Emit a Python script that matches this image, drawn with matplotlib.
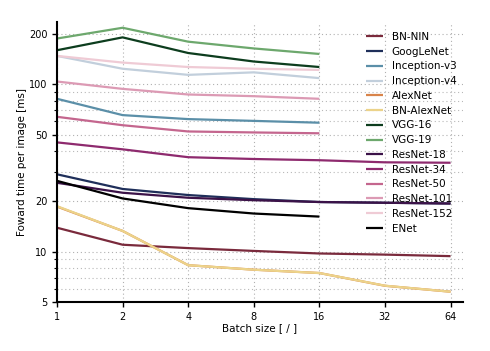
import matplotlib
matplotlib.use("Agg")
import matplotlib.pyplot as plt
from matplotlib.ticker import FixedLocator, LogLocator, NullFormatter, FixedFormatter

batch_full = [1, 2, 4, 8, 16, 32, 64]

names = ["BN-NIN", "GoogLeNet", "Inception-v3", "Inception-v4", "AlexNet", "BN-AlexNet",
         "VGG-16", "VGG-19", "ResNet-18", "ResNet-34", "ResNet-50", "ResNet-101",
         "ResNet-152", "ENet"]

bn_nin = [13.9, 11.0, 10.5, 10.1, 9.75, 9.6, 9.4]
googlenet = [29.0, 23.7, 21.8, 20.6, 19.8, 19.6, 19.4]
inception_v3 = [82, 65.5, 62, 60.5, 59]
inception_v4 = [148, 124, 114, 118, 109]
alexnet = [18.6, 13.3, 8.3, 7.8, 7.45, 6.25, 5.76]
bn_alexnet = [18.7, 13.3, 8.3, 7.8, 7.45, 6.26, 5.76]
vgg16 = [160, 191, 154, 137, 127]
vgg19 = [188, 218, 180, 164, 152]
resnet18 = [25.8, 22.5, 21.0, 20.3, 19.8, 19.6, 19.4]
resnet34 = [45, 40.9, 36.7, 35.8, 35.2, 34.2, 34.0]
resnet50 = [64, 57, 52.3, 51.6, 51]
resnet101 = [104, 94, 87, 85, 82]
resnet152 = [148, 135, 127, 124, 122]
enet = [26.5, 20.8, 18.2, 16.9, 16.2]

series = [bn_nin, googlenet, inception_v3, inception_v4, alexnet, bn_alexnet,
          vgg16, vgg19, resnet18, resnet34, resnet50, resnet101, resnet152, enet]

colors = ["#7a2a3c", "#1f2f5a", "#5b8fa8", "#c2cfdc", "#d9844a", "#ecd38a",
          "#0d3d1e", "#6da86d", "#3b1248", "#8e2a6e", "#c4668e", "#dc9ab4",
          "#efcbd5", "#000000"]

xtick_vals = [1, 2, 4, 8, 16, 32, 64]
xtick_labels = ["1", "2", "4", "8", "16", "32", "64"]
ytick_vals = [5, 10, 20, 50, 100, 200]
ytick_labels = ["5", "10", "20", "50", "100", "200"]

fig = plt.figure(figsize=(4.9, 3.51), dpi=100)
ax = fig.add_axes([57/490, (351-302)/351, (463-57)/490, (302-22)/351])

for name, vals, c in zip(names, series, colors):
    xs = batch_full[:len(vals)]
    ax.plot(xs, vals, color=c, lw=1.6, label=name, solid_capstyle="butt")

ax.set_xscale("log", base=2)
ax.set_yscale("log")
ax.set_xlim(1, 73)
ax.set_ylim(5, 236)

ax.xaxis.set_major_locator(FixedLocator(xtick_vals))
ax.xaxis.set_major_formatter(FixedFormatter(xtick_labels))
ax.xaxis.set_minor_formatter(NullFormatter())
ax.xaxis.set_minor_locator(FixedLocator([]))
ax.yaxis.set_major_locator(FixedLocator(ytick_vals))
ax.yaxis.set_major_formatter(FixedFormatter(ytick_labels))
ax.yaxis.set_minor_locator(LogLocator(base=10, subs=(2, 3, 4, 5, 6, 7, 8, 9)))
ax.yaxis.set_minor_formatter(NullFormatter())

ax.grid(True, which="major", axis="both", ls=(0, (1, 2.5)), color="#b0b0b0", lw=0.8)
ax.grid(True, which="minor", axis="y", ls=(0, (1, 2.5)), color="#b8b8b8", lw=0.8)

for s in ["top", "right"]:
    ax.spines[s].set_visible(False)
for s in ["left", "bottom"]:
    ax.spines[s].set_linewidth(1.5)

ax.tick_params(axis="both", which="major", labelsize=7, length=3.5, width=1)
ax.tick_params(axis="y", which="minor", length=2, width=0.8)

ax.set_xlabel("Batch size [ / ]", fontsize=7.5, labelpad=1)
ax.set_ylabel("Foward time per image [ms]", fontsize=7.5, labelpad=1)

ax.legend(loc="upper left", bbox_to_anchor=((366-57)/406, (302-32)/280),
          frameon=False, fontsize=7.5, borderpad=0, borderaxespad=0,
          handlelength=1.6, handletextpad=0.85, labelspacing=0.455)

fig.savefig("out.png", dpi=100)
